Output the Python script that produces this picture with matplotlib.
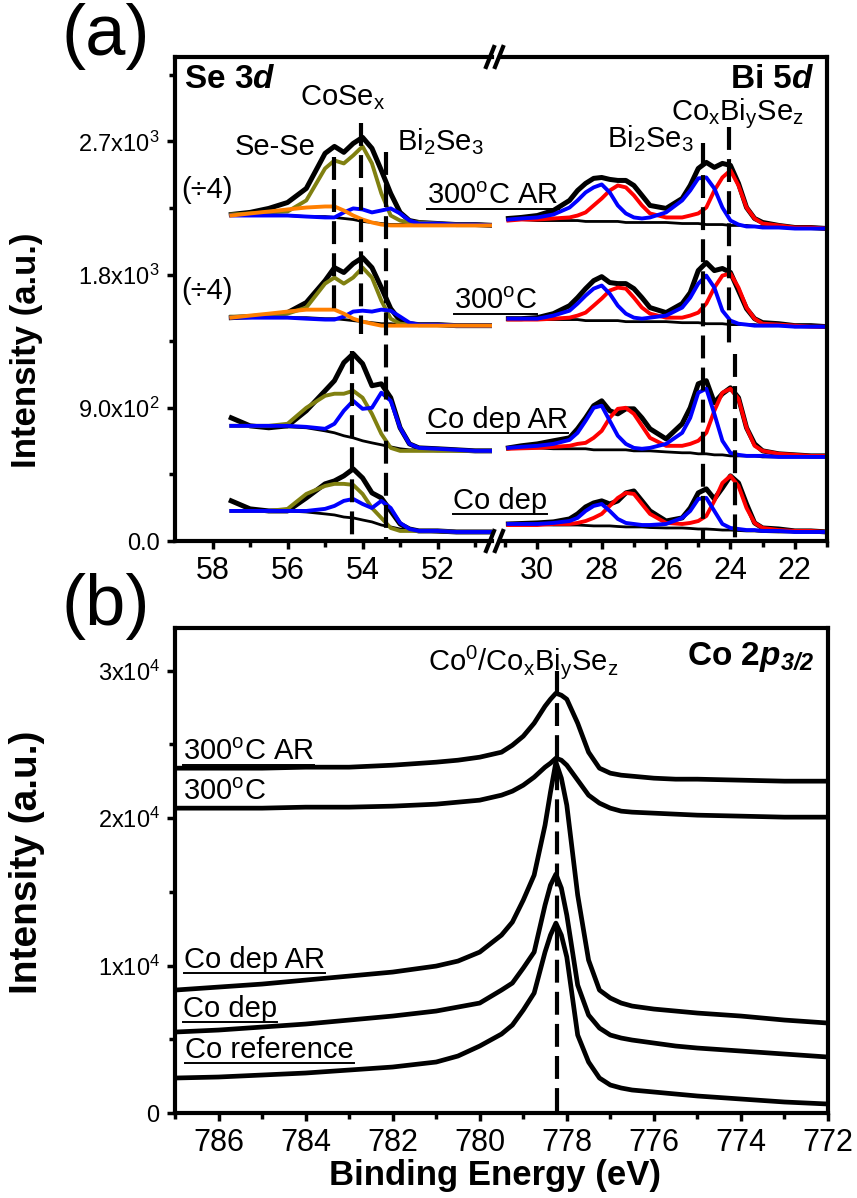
import matplotlib
matplotlib.use("Agg")
import matplotlib.pyplot as plt
from matplotlib.lines import Line2D
from matplotlib.ticker import FixedLocator, FixedFormatter

plt.rcParams['font.family'] = ['Liberation Sans', 'DejaVu Sans']
plt.rcParams['mathtext.fontset'] = 'custom'
plt.rcParams['mathtext.rm'] = 'Liberation Sans'
plt.rcParams['mathtext.it'] = 'Liberation Sans:italic'
plt.rcParams['mathtext.bf'] = 'Liberation Sans:bold'
plt.rcParams['mathtext.bfit'] = 'Liberation Sans:italic:bold'

# ---- Se 3d region (binding energy, eV) ----
se_E = [57.5, 57, 56.5, 56, 55.5, 55, 54.75, 54.5, 54.25, 54, 53.75, 53.5, 53.25, 53,
        52.75, 52.5, 52, 51.5, 51, 50.5]

se_300ar_data = [2206, 2220, 2247, 2287, 2382, 2619, 2666, 2626, 2686, 2727, 2653, 2504, 2348, 2220, 2165, 2152, 2145, 2138, 2138, 2132]
se_300ar_olive = [2206, 2213, 2220, 2226, 2301, 2517, 2571, 2551, 2605, 2666, 2551, 2348, 2199, 2165, 2152, 2152, 2145, 2138, 2138, 2132]
se_300ar_blue = [2199, 2199, 2199, 2199, 2192, 2186, 2186, 2220, 2247, 2240, 2220, 2233, 2247, 2213, 2165, 2145, 2145, 2138, 2138, 2132]
se_300ar_orange = [2199, 2213, 2226, 2240, 2253, 2260, 2260, 2233, 2199, 2172, 2152, 2138, 2132, 2132, 2132, 2132, 2132, 2132, 2132, 2132]
se_300ar_bg = [2199, 2199, 2199, 2199, 2192, 2192, 2186, 2179, 2172, 2159, 2152, 2145, 2138, 2138, 2138, 2138, 2138, 2132, 2132, 2132]

se_300_data = [1509, 1516, 1523, 1543, 1611, 1759, 1847, 1814, 1874, 1915, 1847, 1712, 1570, 1489, 1468, 1462, 1462, 1455, 1455, 1455]
se_300_olive = [1516, 1516, 1523, 1536, 1577, 1739, 1780, 1739, 1780, 1847, 1780, 1624, 1502, 1468, 1462, 1462, 1462, 1455, 1455, 1455]
se_300_blue = [1509, 1509, 1509, 1509, 1502, 1496, 1496, 1516, 1550, 1556, 1550, 1563, 1556, 1516, 1475, 1462, 1462, 1455, 1455, 1455]
se_300_orange = [1509, 1523, 1536, 1550, 1563, 1563, 1563, 1536, 1502, 1482, 1468, 1455, 1455, 1455, 1455, 1455, 1455, 1455, 1455, 1455]
se_300_bg = [1509, 1509, 1509, 1509, 1509, 1502, 1502, 1496, 1489, 1482, 1475, 1468, 1468, 1462, 1462, 1462, 1455, 1455, 1455, 1455]

se_depar_data = [832, 778, 765, 778, 880, 1015, 1083, 1205, 1265, 1198, 1049, 1062, 968, 765, 656, 629, 623, 616, 609, 609]
se_depar_olive = [778, 778, 778, 792, 900, 981, 995, 995, 1015, 968, 859, 724, 629, 609, 609, 609, 609, 609, 609, 609]
se_depar_blue = [778, 778, 778, 778, 771, 758, 792, 880, 947, 893, 900, 1002, 947, 765, 656, 629, 623, 616, 609, 609]
se_depar_bg = [778, 778, 778, 771, 765, 744, 731, 711, 697, 677, 663, 650, 636, 623, 616, 616, 609, 609, 609, 609]

se_dep_data = [271, 217, 203, 203, 291, 386, 406, 440, 487, 426, 325, 291, 203, 115, 81, 68, 68, 61, 61, 61]
se_dep_olive = [203, 203, 203, 217, 318, 372, 386, 386, 379, 318, 223, 156, 88, 68, 68, 68, 68, 61, 61, 61]
se_dep_blue = [203, 203, 203, 203, 203, 217, 237, 271, 284, 250, 223, 271, 223, 122, 81, 68, 68, 61, 61, 61]
se_dep_bg = [203, 203, 203, 203, 196, 183, 176, 162, 156, 142, 129, 108, 95, 81, 74, 68, 61, 61, 61, 61]

# ---- Bi 5d region ----
bi_E = [30.9, 30.5, 30, 29.5, 29, 28.75, 28.5, 28.25, 28, 27.75, 27.5, 27.25, 27, 26.75, 26.5,
        26, 25.5, 25.25, 25, 24.75, 24.5, 24.25, 24, 23.75, 23.5, 23.25, 23, 22.5, 22, 21.5, 21]

bi_300ar_data = [2179, 2186, 2199, 2233, 2301, 2368, 2416, 2450, 2456, 2443, 2436, 2436, 2402, 2335, 2267, 2247, 2314, 2402, 2517, 2558, 2524, 2551, 2538, 2416, 2253, 2179, 2152, 2132, 2118, 2118, 2111]
bi_300ar_blue = [2172, 2179, 2186, 2206, 2253, 2301, 2355, 2389, 2409, 2355, 2267, 2213, 2186, 2179, 2186, 2220, 2301, 2368, 2450, 2456, 2382, 2253, 2165, 2138, 2125, 2125, 2118, 2118, 2111, 2111, 2111]
bi_300ar_red = [2165, 2172, 2172, 2179, 2186, 2199, 2220, 2267, 2314, 2368, 2402, 2389, 2335, 2267, 2213, 2186, 2186, 2199, 2213, 2253, 2368, 2456, 2504, 2402, 2253, 2179, 2145, 2132, 2118, 2118, 2111]
bi_300ar_bg = [2172, 2172, 2165, 2165, 2165, 2165, 2159, 2159, 2159, 2159, 2159, 2152, 2152, 2152, 2152, 2152, 2145, 2145, 2145, 2138, 2138, 2138, 2132, 2132, 2132, 2125, 2125, 2125, 2118, 2118, 2111]

bi_300_data = [1502, 1502, 1509, 1536, 1590, 1644, 1705, 1759, 1786, 1746, 1739, 1739, 1705, 1644, 1577, 1543, 1604, 1678, 1827, 1881, 1827, 1841, 1814, 1692, 1570, 1502, 1475, 1468, 1455, 1455, 1448]
bi_300_blue = [1502, 1502, 1502, 1523, 1556, 1604, 1658, 1705, 1726, 1671, 1590, 1536, 1509, 1502, 1509, 1523, 1577, 1644, 1739, 1793, 1712, 1556, 1489, 1468, 1462, 1455, 1455, 1455, 1448, 1448, 1448]
bi_300_red = [1496, 1496, 1496, 1502, 1509, 1523, 1543, 1590, 1638, 1692, 1712, 1705, 1644, 1577, 1536, 1509, 1509, 1523, 1543, 1604, 1712, 1793, 1807, 1712, 1577, 1502, 1468, 1462, 1455, 1448, 1448]
bi_300_bg = [1502, 1502, 1496, 1496, 1496, 1496, 1489, 1489, 1489, 1489, 1489, 1482, 1482, 1482, 1482, 1482, 1475, 1475, 1475, 1468, 1468, 1468, 1462, 1462, 1462, 1462, 1455, 1455, 1455, 1448, 1448]

bi_depar_data = [629, 643, 656, 677, 697, 758, 832, 914, 947, 880, 859, 893, 893, 832, 758, 690, 792, 900, 1062, 1083, 934, 995, 1035, 968, 765, 656, 609, 589, 582, 575, 575]
bi_depar_blue = [629, 636, 643, 656, 683, 731, 812, 900, 914, 812, 711, 656, 629, 623, 629, 656, 731, 832, 1002, 1029, 859, 677, 595, 582, 575, 575, 575, 568, 568, 568, 568]
bi_depar_red = [623, 626, 629, 636, 643, 656, 663, 697, 744, 832, 893, 900, 859, 778, 697, 643, 643, 656, 677, 731, 880, 1002, 1029, 961, 765, 643, 609, 589, 582, 575, 575]
bi_depar_bg = [629, 629, 629, 623, 623, 623, 623, 616, 616, 616, 616, 616, 609, 609, 609, 602, 596, 596, 589, 589, 582, 582, 575, 575, 575, 575, 568, 568, 568, 568, 568]

bi_dep_data = [115, 118, 122, 129, 149, 183, 230, 257, 271, 250, 271, 325, 338, 271, 203, 135, 156, 223, 325, 352, 284, 359, 440, 392, 250, 122, 88, 81, 68, 68, 61]
bi_dep_blue = [115, 115, 115, 122, 135, 156, 203, 237, 250, 203, 149, 122, 115, 108, 108, 115, 156, 203, 284, 291, 203, 115, 88, 81, 74, 74, 68, 68, 61, 61, 61]
bi_dep_red = [108, 108, 108, 115, 115, 122, 135, 156, 183, 237, 291, 325, 318, 250, 183, 122, 115, 122, 135, 169, 271, 392, 440, 372, 223, 122, 88, 74, 68, 68, 61]
bi_dep_bg = [115, 115, 112, 108, 108, 108, 105, 102, 102, 102, 98, 95, 95, 95, 91, 88, 88, 85, 81, 81, 78, 74, 74, 71, 68, 68, 64, 61, 61, 61, 61]

# ---- Co 2p3/2 ----
co_E = [787, 786, 785, 784, 783, 782, 781, 780.5, 780, 779.5, 779.25, 779, 778.75, 778.5, 778.375,
        778.25, 778.125, 778, 777.75, 777.5, 777.25, 777, 776.75, 776.5, 776, 775.5, 775, 774, 773, 772]
co_300ar = [23391, 23391, 23391, 23459, 23459, 23594, 23798, 23933, 24137, 24476, 24950, 25561, 26442, 27595, 28069, 28476, 28340, 28069, 26442, 24476, 23391, 23052, 22916, 22849, 22713, 22645, 22645, 22577, 22510, 22510]
co_300 = [20679, 20679, 20679, 20747, 20747, 20815, 20950, 21086, 21221, 21560, 21832, 22238, 22781, 23459, 23730, 24069, 23933, 23594, 22577, 21560, 21018, 20679, 20476, 20408, 20340, 20272, 20204, 20137, 20069, 20069]
co_depar = [8339, 8543, 8746, 9017, 9289, 9560, 9967, 10306, 10916, 12068, 12950, 14441, 16136, 19526, 21764, 23798, 22713, 20882, 14780, 10373, 8339, 7797, 7458, 7255, 7051, 6916, 6780, 6577, 6305, 6102]
co_dep = [5492, 5627, 5831, 6034, 6305, 6577, 6916, 7187, 7458, 8339, 8814, 9831, 10916, 14102, 15458, 16204, 15255, 13424, 8678, 6644, 5763, 5288, 5085, 4949, 4746, 4543, 4407, 4204, 4000, 3797]
co_ref = [2373, 2441, 2576, 2712, 2915, 3119, 3458, 3865, 4543, 5356, 5966, 6983, 8136, 10916, 12068, 12882, 12068, 10577, 5288, 3458, 2373, 1898, 1695, 1559, 1424, 1288, 1153, 949, 746, 610]

OLIVE = '#808010'
BLUE = '#0000ff'
RED = '#ff0000'
ORANGE = '#ff7f00'

fig = plt.figure(figsize=(8.57, 11.98), dpi=100)
W, H = 857.0, 1198.0


def frac(x0, y0, x1, y1):
    return [x0 / W, 1 - y1 / H, (x1 - x0) / W, (y1 - y0) / H]


axL = fig.add_axes(frac(175, 57, 492, 541))
axR = fig.add_axes(frac(500, 57, 827, 541))
axB = fig.add_axes(frac(175, 628, 828, 1113))


def style(ax):
    ax.set_facecolor('none')
    for s in ax.spines.values():
        s.set_linewidth(3)
    ax.tick_params(which='both', direction='out', width=2.5, top=False, right=False,
                   labelsize=22, pad=5)
    ax.tick_params(which='major', length=6)
    ax.tick_params(which='minor', length=4)
    ax.tick_params(axis='y', labelsize=17)


for ax in (axL, axR, axB):
    style(ax)

# ---------------- panel (a), Se 3d ----------------
for d, bg, ol, bl, orng in [(se_300ar_data, se_300ar_bg, se_300ar_olive, se_300ar_blue, se_300ar_orange),
                            (se_300_data, se_300_bg, se_300_olive, se_300_blue, se_300_orange),
                            (se_depar_data, se_depar_bg, se_depar_olive, se_depar_blue, None),
                            (se_dep_data, se_dep_bg, se_dep_olive, se_dep_blue, None)]:
    axL.plot(se_E, d, color='k', lw=3.6, solid_joinstyle='round')
    axL.plot(se_E, bg, color='k', lw=2)
    axL.plot(se_E, ol, color=OLIVE, lw=2.8, solid_joinstyle='round')
    axL.plot(se_E, bl, color=BLUE, lw=2.8, solid_joinstyle='round')
    if orng is not None:
        axL.plot(se_E, orng, color=ORANGE, lw=2.8, solid_joinstyle='round')

axL.set_xlim(59, 50.55)
axL.set_ylim(0, 3270)
axL.spines['right'].set_visible(False)
axL.xaxis.set_major_locator(FixedLocator([58, 56, 54, 52]))
axL.xaxis.set_minor_locator(FixedLocator([57, 55, 53, 51]))
axL.yaxis.set_major_locator(FixedLocator([0, 900, 1800, 2700]))
axL.yaxis.set_minor_locator(FixedLocator([450, 1350, 2250, 3150]))
axL.yaxis.set_major_formatter(FixedFormatter(["0.0", r"9.0x10$^{2}$", r"1.8x10$^{3}$", r"2.7x10$^{3}$"]))

dash = (0, (5.5, 2.2))
axL.plot([54.75, 54.75], [2592, 1523], color='k', lw=3, ls=dash)
axL.plot([54.03, 54.03], [2822, 1401], color='k', lw=3, ls=dash)
axL.plot([53.38, 53.38], [2626, 0], color='k', lw=3, ls=dash)
axL.plot([54.27, 54.27], [1286, 0], color='k', lw=3, ls=dash)

# ---------------- panel (a), Bi 5d ----------------
for d, bg, bl, rd in [(bi_300ar_data, bi_300ar_bg, bi_300ar_blue, bi_300ar_red),
                      (bi_300_data, bi_300_bg, bi_300_blue, bi_300_red),
                      (bi_depar_data, bi_depar_bg, bi_depar_blue, bi_depar_red),
                      (bi_dep_data, bi_dep_bg, bi_dep_blue, bi_dep_red)]:
    axR.plot(bi_E, d, color='k', lw=3.6, solid_joinstyle='round')
    axR.plot(bi_E, bg, color='k', lw=2)
    axR.plot(bi_E, rd, color=RED, lw=2.8, solid_joinstyle='round')
    axR.plot(bi_E, bl, color=BLUE, lw=2.8, solid_joinstyle='round')

axR.set_xlim(31.16, 21)
axR.set_ylim(0, 3270)
axR.spines['left'].set_visible(False)
axR.tick_params(axis='y', which='both', left=False, labelleft=False)
axR.xaxis.set_major_locator(FixedLocator([30, 28, 26, 24, 22]))
axR.xaxis.set_minor_locator(FixedLocator([31, 29, 27, 25, 23, 21]))

axR.plot([24.85, 24.85], [2687, 0], color='k', lw=3, ls=dash)
axR.plot([24.05, 24.05], [2795, 1306], color='k', lw=3, ls=dash)
axR.plot([23.85, 23.85], [1265, 0], color='k', lw=3, ls=dash)

# axis-break marks
for yb in (57, 541):
    for xb in (490, 499):
        fig.add_artist(Line2D([(xb - 4) / W, (xb + 4) / W], [1 - (yb + 10) / H, 1 - (yb - 10) / H],
                              color='k', lw=3, transform=fig.transFigure))

# labels, panel (a)
fs = 21
axL.text(58.75, 3059, r"Se 3$\mathbfit{d}$", fontsize=24, fontweight='bold')
axL.text(55.68, 2944, r"CoSe$_{\mathrm{x}}$", fontsize=fs)
axL.text(57.41, 2605, "Se-Se", fontsize=fs)
axL.text(53.09, 2639, r"Bi$_{\mathrm{2}}$Se$_{\mathrm{3}}$", fontsize=fs)
axL.text(58.83, 2314, "(\u00f74)", fontsize=fs)
axL.text(58.83, 1638, "(\u00f74)", fontsize=fs)
under = []
under.append((axL, axL.text(52.27, 2280, r"300$^{\mathrm{o}}$C AR", fontsize=fs), 2280))
under.append((axL, axL.text(51.55, 1570, r"300$^{\mathrm{o}}$C", fontsize=fs), 1570))
under.append((axL, axL.text(52.27, 765, "Co dep AR", fontsize=fs), 765))
under.append((axL, axL.text(51.6, 217, "Co dep", fontsize=fs), 217))
axR.text(27.83, 2659, r"Bi$_{\mathrm{2}}$Se$_{\mathrm{3}}$", fontsize=fs)
axR.text(25.84, 2842, r"Co$_{\mathrm{x}}$Bi$_{\mathrm{y}}$Se$_{\mathrm{z}}$", fontsize=fs)
axR.text(21.4, 3059, r"Bi 5$\mathbfit{d}$", fontsize=24, fontweight='bold', ha='right')

# ---------------- panel (b), Co 2p3/2 ----------------
for y in (co_300ar, co_300, co_depar, co_dep, co_ref):
    axB.plot(co_E, y, color='k', lw=3.4, solid_joinstyle='round')
axB.plot([778.22, 778.22], [30000, 0], color='k', lw=3, ls=dash)

axB.set_xlim(787, 772)
axB.set_ylim(0, 32900)
axB.xaxis.set_major_locator(FixedLocator([786, 784, 782, 780, 778, 776, 774, 772]))
axB.xaxis.set_minor_locator(FixedLocator([787, 785, 783, 781, 779, 777, 775, 773]))
axB.yaxis.set_major_locator(FixedLocator([0, 10000, 20000, 30000]))
axB.yaxis.set_minor_locator(FixedLocator([5000, 15000, 25000]))
axB.yaxis.set_major_formatter(FixedFormatter(["0", r"1x10$^{4}$", r"2x10$^{4}$", r"3x10$^{4}$"]))

axB.text(781.19, 30035, r"Co$^{\mathrm{0}}$/Co$_{\mathrm{x}}$Bi$_{\mathrm{y}}$Se$_{\mathrm{z}}$", fontsize=fs)
axB.text(772.32, 30374, r"Co 2$\mathbfit{p}_{\mathbfit{3/2}}$", fontsize=24, fontweight='bold', ha='right')
under.append((axB, axB.text(786.82, 23933, r"300$^{\mathrm{o}}$C AR", fontsize=fs), 23933))
axB.text(786.82, 21221, r"300$^{\mathrm{o}}$C", fontsize=fs)
under.append((axB, axB.text(786.8, 9831, "Co dep AR", fontsize=fs), 9831))
under.append((axB, axB.text(786.82, 6509, "Co dep", fontsize=fs), 6509))
under.append((axB, axB.text(786.76, 3729, "Co reference", fontsize=fs), 3729))

# axis titles and panel letters
fig.text(27 / W, 1 - 350 / H, "Intensity (a.u.)", rotation=90, ha='center', va='center',
         fontsize=25, fontweight='bold')
fig.text(27 / W, 1 - 862 / H, "Intensity (a.u.)", rotation=90, ha='center', va='center',
         fontsize=28, fontweight='bold')
fig.text(495 / W, 1 - 1175 / H, "Binding Energy (eV)", ha='center', va='center',
         fontsize=25, fontweight='bold')
fig.text(106 / W, 1 - 36 / H, "(a)", ha='center', va='center', fontsize=52)
fig.text(106 / W, 1 - 607 / H, "(b)", ha='center', va='center', fontsize=52)

# underline the sample names
fig.canvas.draw()
r = fig.canvas.get_renderer()
inv = fig.transFigure.inverted()
for ax, t, yb in under:
    bb = t.get_window_extent(r)
    x0, yd = ax.transData.transform((t.get_position()[0], yb))
    p0 = inv.transform((bb.x0, yd - 5))
    p1 = inv.transform((bb.x1, yd - 5))
    fig.add_artist(Line2D([p0[0], p1[0]], [p0[1], p1[1]], color='k', lw=1.4,
                          transform=fig.transFigure))

fig.savefig("out.png", dpi=100)
